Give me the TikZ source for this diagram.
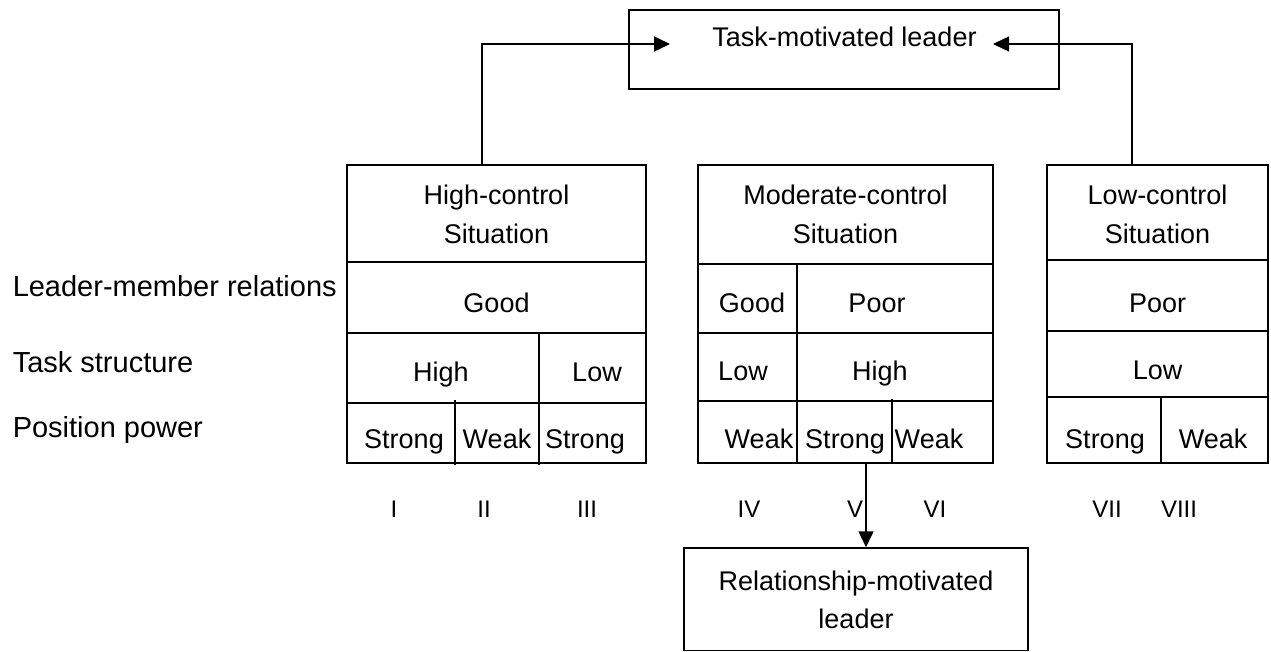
\documentclass[tikz,border=0pt]{standalone}
\usepackage{fontspec}
\setmainfont{Liberation Sans}
\usetikzlibrary{arrows.meta}
\begin{document}
\begin{tikzpicture}[x=1pt,y=-1pt,line width=1.5pt,
  box/.style={draw,rectangle,inner sep=0pt},
  cell/.style={anchor=base,inner sep=0pt,font=\fontsize{27}{32}\selectfont},
  side/.style={anchor=base west,inner sep=0pt,font=\fontsize{29}{34}\selectfont},
  num/.style={anchor=base,inner sep=0pt,font=\fontsize{24}{28}\selectfont},
  arr/.style={-{Triangle[length=16pt,width=15pt]}}]
\useasboundingbox (0,0) rectangle (1271,652);

% outer boxes
\node[box,minimum width=430pt,minimum height=79pt] (task) at (844,49.5) {};
\node[box,minimum width=299pt,minimum height=298pt] (hc) at (496.5,314) {};
\node[box,minimum width=295pt,minimum height=298pt] (mc) at (845.5,314) {};
\node[box,minimum width=221pt,minimum height=298pt] (lc) at (1157.5,314) {};
\node[box,minimum width=344pt,minimum height=102.5pt] (rel) at (856,599.25) {};

% captions of the boxes
\node[cell] (taskT) at (844.5,47) {Task-motivated leader};
\node[cell] (relA) at (856,590) {Relationship-motivated};
\node[cell] (relB) at (856,628) {leader};

% high-control situation
\draw (347,262) -- (646,262) (347,333) -- (646,333) (347,403) -- (646,403);
\draw (539,333) -- (539,465) (455,400) -- (455,465);
\node[cell] (hcA) at (496.5,205) {High-control};
\node[cell] (hcB) at (496.5,244) {Situation};
\node[cell] (hcG) at (496.5,312) {Good};
\node[cell] (hcH) at (441,381) {High};
\node[cell] (hcL) at (597,381) {Low};
\node[cell] (hcS1) at (404,448) {Strong};
\node[cell] (hcW) at (497,448) {Weak};
\node[cell] (hcS2) at (585,448) {Strong};

% moderate-control situation
\draw (698,264) -- (993,264) (698,333) -- (993,333) (698,401) -- (993,401);
\draw (797,264) -- (797,463) (892,399) -- (892,463);
\node[cell] (mcA) at (845.5,205) {Moderate-control};
\node[cell] (mcB) at (845.5,244) {Situation};
\node[cell] (mcG) at (752,312) {Good};
\node[cell] (mcP) at (877,312) {Poor};
\node[cell] (mcL) at (743,380) {Low};
\node[cell] (mcH) at (880,380) {High};
\node[cell] (mcW1) at (759,448) {Weak};
\node[cell] (mcS) at (845,448) {Strong};
\node[cell] (mcW2) at (929,448) {Weak};

% low-control situation
\draw (1047,260) -- (1268,260) (1047,331) -- (1268,331) (1047,397) -- (1268,397);
\draw (1161,397) -- (1161,463);
\node[cell] (lcA) at (1157.5,205) {Low-control};
\node[cell] (lcB) at (1157.5,244) {Situation};
\node[cell] (lcP) at (1157.5,312) {Poor};
\node[cell] (lcL) at (1157.5,379) {Low};
\node[cell] (lcS) at (1105,448) {Strong};
\node[cell] (lcW) at (1213,448) {Weak};

% row headings
\node[side] (rowA) at (12,296) {Leader-member relations};
\node[side] (rowB) at (12,372) {Task structure};
\node[side] (rowC) at (12,437) {Position power};

% octants
\node[num] (o1) at (394,517) {I};
\node[num] (o2) at (484,517) {II};
\node[num] (o3) at (587,517) {III};
\node[num] (o4) at (749,517) {IV};
\node[num] (o5) at (855,517) {V};
\node[num] (o6) at (935,517) {VI};
\node[num] (o7) at (1107,517) {VII};
\node[num] (o8) at (1179,517) {VIII};

% connectors
\coordinate (tipL) at (670,44);
\coordinate (tipR) at (993,44);
\draw[arr] (hc.north -| 482,0) |- (tipL);
\draw[arr] (lc.north -| 1132,0) |- (tipR);
\draw[arr] (mc.south -| 866,0) -- (rel.north -| 866,0);
\end{tikzpicture}
\end{document}
